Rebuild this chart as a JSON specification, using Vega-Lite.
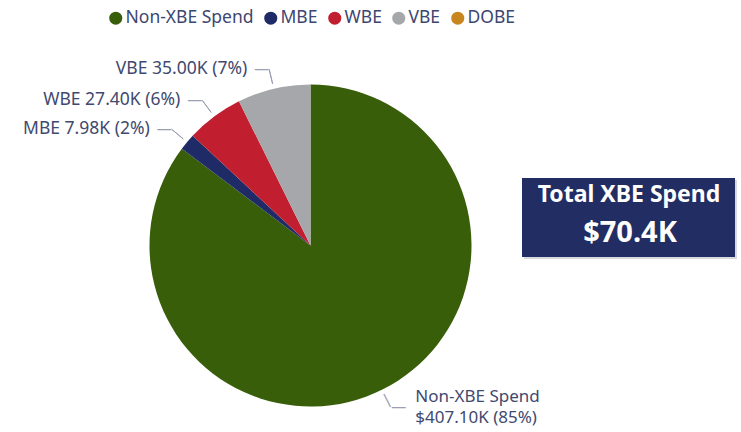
{
  "$schema": "https://vega.github.io/schema/vega-lite/v6.json",
  "width": 621,
  "height": 373,
  "autosize": {"type": "none"},
  "padding": {"left": 0, "top": 59, "right": 120, "bottom": 0},
  "background": "white",
  "config": {"view": {"stroke": null}, "font": "Noto Sans"},
  "layer": [
    {
      "data": {
        "values": [
          {"category": "Non-XBE Spend", "value": 407.10, "seq": 1, "side": "right", "label": "Non-XBE Spend", "label2": "$407.10K (85%)"},
          {"category": "MBE", "value": 7.98, "seq": 2, "side": "left", "label": "MBE 7.98K (2%)", "label2": ""},
          {"category": "WBE", "value": 27.40, "seq": 3, "side": "left", "label": "WBE 27.40K (6%)", "label2": ""},
          {"category": "VBE", "value": 35.00, "seq": 4, "side": "left", "label": "VBE 35.00K (7%)", "label2": ""},
          {"category": "DOBE", "value": 0, "seq": 5, "side": "", "label": "", "label2": ""}
        ]
      },
      "encoding": {
        "theta": {"field": "value", "type": "quantitative", "stack": true},
        "order": {"field": "seq", "type": "quantitative", "sort": "ascending"},
        "detail": {"field": "category", "type": "nominal"}
      },
      "layer": [
        {
          "mark": {"type": "arc", "outerRadius": 161},
          "encoding": {
            "color": {
              "field": "category",
              "type": "nominal",
              "scale": {
                "domain": ["Non-XBE Spend", "MBE", "WBE", "VBE", "DOBE"],
                "range": ["#385e0a", "#1f2b66", "#c11f30", "#a6a7ab", "#c8861f"]
              },
              "legend": {
                "orient": "none",
                "legendX": 107,
                "legendY": -50,
                "direction": "horizontal",
                "title": null,
                "symbolType": "circle",
                "symbolSize": 169,
                "symbolStrokeWidth": 0,
                "symbolOpacity": 1,
                "labelFontSize": 17.5,
                "labelColor": "#3d4670",
                "labelOffset": 1,
                "columnPadding": 8
              }
            }
          }
        },
        {
          "mark": {"type": "arc", "outerRadius": 181, "innerRadius": 166, "padAngle": 3.14, "filled": false, "color": "#9a9fb3", "strokeWidth": 1},
          "encoding": {
            "strokeOpacity": {"condition": {"test": "datum.side === 'left'", "value": 1}, "value": 0}
          }
        },
        {
          "mark": {"type": "text", "radius": 173, "angle": 63.5, "align": "center", "baseline": "middle", "fontSize": 16, "color": "#9a9fb3"},
          "encoding": {
            "text": {"condition": {"test": "datum.side === 'right'", "value": "—"}, "value": ""}
          }
        },
        {
          "mark": {"type": "text", "radius": 181, "align": "right", "baseline": "middle", "fontSize": 15, "color": "#9a9fb3"},
          "encoding": {
            "text": {"condition": {"test": "datum.side === 'left'", "value": "—"}, "value": ""}
          }
        },
        {
          "mark": {"type": "text", "radius": 181, "align": "left", "baseline": "middle", "fontSize": 15, "color": "#9a9fb3"},
          "encoding": {
            "text": {"condition": {"test": "datum.side === 'right'", "value": "—"}, "value": ""}
          }
        },
        {
          "mark": {"type": "text", "radius": 181, "align": "right", "baseline": "middle", "dx": -22, "fontSize": 17.5, "color": "#41496e"},
          "encoding": {
            "text": {"condition": {"test": "datum.side === 'left'", "field": "label", "type": "nominal"}, "value": ""}
          }
        },
        {
          "mark": {"type": "text", "radius": 181, "align": "left", "baseline": "middle", "dx": 24, "dy": -10, "fontSize": 17, "color": "#41496e"},
          "encoding": {
            "text": {"condition": {"test": "datum.side === 'right'", "field": "label", "type": "nominal"}, "value": ""}
          }
        },
        {
          "mark": {"type": "text", "radius": 181, "align": "left", "baseline": "middle", "dx": 24, "dy": 11, "fontSize": 17, "color": "#41496e"},
          "encoding": {
            "text": {"condition": {"test": "datum.side === 'right'", "field": "label2", "type": "nominal"}, "value": ""}
          }
        }
      ]
    },
    {
      "data": {"values": [{"title": "Total XBE Spend", "amount": "$70.4K"}]},
      "layer": [
        {
          "mark": {"type": "rect", "x": 524, "x2": 737, "y": 121, "y2": 200, "color": "#d8d9de"},
          "encoding": {}
        },
        {
          "mark": {"type": "rect", "x": 522, "x2": 735, "y": 119, "y2": 198, "color": "#222d63"},
          "encoding": {}
        },
        {
          "mark": {"type": "text", "x": 629, "y": 136, "align": "center", "baseline": "middle", "fontSize": 23, "fontWeight": "bold", "color": "white"},
          "encoding": {"text": {"field": "title", "type": "nominal"}}
        },
        {
          "mark": {"type": "text", "x": 630, "y": 174, "align": "center", "baseline": "middle", "fontSize": 29, "fontWeight": "bold", "color": "white"},
          "encoding": {"text": {"field": "amount", "type": "nominal"}}
        }
      ]
    }
  ]
}
